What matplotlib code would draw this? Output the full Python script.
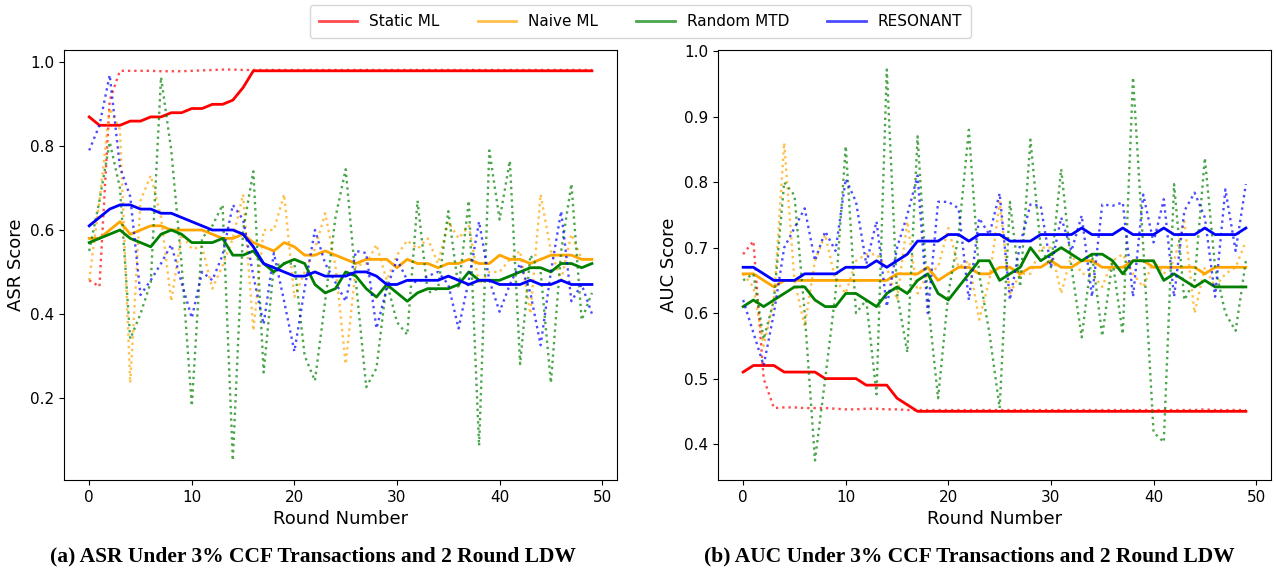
import matplotlib.pyplot as plt
from matplotlib.lines import Line2D

rounds = list(range(50))

# ASR panel: smoothed (solid) and raw (dotted) values per method
asr_static = [0.87, 0.85, 0.85, 0.85, 0.86, 0.86, 0.87, 0.87, 0.88, 0.88,
              0.89, 0.89, 0.90, 0.90, 0.91, 0.94, 0.98, 0.98, 0.98, 0.98,
              0.98, 0.98, 0.98, 0.98, 0.98, 0.98, 0.98, 0.98, 0.98, 0.98,
              0.98, 0.98, 0.98, 0.98, 0.98, 0.98, 0.98, 0.98, 0.98, 0.98,
              0.98, 0.98, 0.98, 0.98, 0.98, 0.98, 0.98, 0.98, 0.98, 0.98]
asr_static_raw = [0.48, 0.465, 0.91, 0.98, 0.98, 0.98, 0.98, 0.979, 0.979, 0.979,
                  0.98, 0.981, 0.982, 0.983, 0.983, 0.982, 0.982, 0.982, 0.982, 0.982,
                  0.982, 0.982, 0.982, 0.982, 0.982, 0.982, 0.982, 0.982, 0.982, 0.982,
                  0.982, 0.982, 0.982, 0.982, 0.982, 0.982, 0.982, 0.982, 0.982, 0.982,
                  0.982, 0.982, 0.982, 0.982, 0.982, 0.982, 0.982, 0.982, 0.982, 0.982]
asr_naive = [0.58, 0.58, 0.60, 0.62, 0.59, 0.60, 0.61, 0.61, 0.60, 0.60,
             0.60, 0.60, 0.59, 0.58, 0.58, 0.59, 0.57, 0.56, 0.55, 0.57,
             0.56, 0.54, 0.54, 0.55, 0.54, 0.53, 0.52, 0.53, 0.53, 0.53,
             0.51, 0.53, 0.52, 0.52, 0.51, 0.52, 0.52, 0.53, 0.52, 0.52,
             0.54, 0.53, 0.53, 0.52, 0.53, 0.54, 0.54, 0.54, 0.53, 0.53]
asr_naive_raw = [0.48, 0.67, 0.89, 0.84, 0.235, 0.67, 0.73, 0.63, 0.43, 0.59,
                 0.555, 0.56, 0.46, 0.515, 0.58, 0.685, 0.36, 0.60, 0.60, 0.685,
                 0.44, 0.50, 0.555, 0.64, 0.515, 0.28, 0.515, 0.52, 0.565, 0.48,
                 0.54, 0.575, 0.555, 0.58, 0.52, 0.62, 0.58, 0.61, 0.47, 0.50,
                 0.50, 0.53, 0.55, 0.40, 0.685, 0.55, 0.48, 0.59, 0.53, 0.53]
asr_random = [0.57, 0.58, 0.59, 0.60, 0.58, 0.57, 0.56, 0.59, 0.60, 0.59,
              0.57, 0.57, 0.57, 0.58, 0.54, 0.54, 0.55, 0.52, 0.50, 0.52,
              0.53, 0.52, 0.47, 0.45, 0.46, 0.50, 0.49, 0.46, 0.44, 0.47,
              0.45, 0.43, 0.45, 0.46, 0.46, 0.46, 0.47, 0.50, 0.48, 0.48,
              0.48, 0.49, 0.50, 0.51, 0.51, 0.50, 0.52, 0.52, 0.51, 0.52]
asr_random_raw = [0.55, 0.67, 0.81, 0.70, 0.34, 0.40, 0.475, 0.965, 0.79, 0.52,
                  0.18, 0.58, 0.61, 0.66, 0.05, 0.60, 0.74, 0.26, 0.515, 0.52,
                  0.52, 0.30, 0.24, 0.43, 0.63, 0.745, 0.475, 0.225, 0.27, 0.475,
                  0.38, 0.35, 0.67, 0.45, 0.46, 0.645, 0.46, 0.67, 0.085, 0.79,
                  0.625, 0.765, 0.28, 0.54, 0.50, 0.235, 0.55, 0.71, 0.385, 0.45]
asr_resonant = [0.61, 0.63, 0.65, 0.66, 0.66, 0.65, 0.65, 0.64, 0.64, 0.63,
                0.62, 0.61, 0.60, 0.60, 0.60, 0.59, 0.56, 0.52, 0.51, 0.50,
                0.49, 0.49, 0.50, 0.49, 0.49, 0.49, 0.50, 0.50, 0.49, 0.47,
                0.47, 0.48, 0.48, 0.48, 0.48, 0.49, 0.48, 0.47, 0.48, 0.48,
                0.47, 0.47, 0.47, 0.48, 0.47, 0.47, 0.48, 0.47, 0.47, 0.47]
asr_resonant_raw = [0.79, 0.85, 0.97, 0.75, 0.68, 0.445, 0.48, 0.52, 0.565, 0.475,
                    0.39, 0.50, 0.48, 0.54, 0.66, 0.625, 0.49, 0.375, 0.545, 0.43,
                    0.31, 0.46, 0.60, 0.52, 0.475, 0.43, 0.55, 0.545, 0.365, 0.46,
                    0.53, 0.48, 0.475, 0.49, 0.50, 0.47, 0.365, 0.48, 0.62, 0.48,
                    0.405, 0.47, 0.52, 0.45, 0.325, 0.50, 0.645, 0.43, 0.47, 0.40]

# AUC panel
auc_static = [0.51, 0.52, 0.52, 0.52, 0.51, 0.51, 0.51, 0.51, 0.50, 0.50,
              0.50, 0.50, 0.49, 0.49, 0.49, 0.47, 0.46, 0.45, 0.45, 0.45,
              0.45, 0.45, 0.45, 0.45, 0.45, 0.45, 0.45, 0.45, 0.45, 0.45,
              0.45, 0.45, 0.45, 0.45, 0.45, 0.45, 0.45, 0.45, 0.45, 0.45,
              0.45, 0.45, 0.45, 0.45, 0.45, 0.45, 0.45, 0.45, 0.45, 0.45]
auc_static_raw = [0.69, 0.71, 0.50, 0.455, 0.456, 0.456, 0.455, 0.455, 0.455, 0.454,
                  0.453, 0.453, 0.454, 0.454, 0.453, 0.453, 0.452, 0.452, 0.452, 0.452,
                  0.452, 0.452, 0.452, 0.452, 0.452, 0.452, 0.452, 0.452, 0.452, 0.452,
                  0.452, 0.452, 0.452, 0.452, 0.452, 0.452, 0.452, 0.452, 0.452, 0.452,
                  0.452, 0.452, 0.452, 0.452, 0.452, 0.453, 0.452, 0.452, 0.452, 0.452]
auc_naive = [0.66, 0.66, 0.65, 0.64, 0.65, 0.65, 0.65, 0.65, 0.65, 0.65,
             0.65, 0.65, 0.65, 0.65, 0.65, 0.66, 0.66, 0.66, 0.67, 0.65,
             0.66, 0.67, 0.67, 0.66, 0.66, 0.67, 0.67, 0.66, 0.67, 0.67,
             0.68, 0.67, 0.67, 0.68, 0.68, 0.67, 0.67, 0.67, 0.68, 0.68,
             0.67, 0.67, 0.67, 0.67, 0.67, 0.66, 0.67, 0.67, 0.67, 0.67]
auc_naive_raw = [0.66, 0.64, 0.55, 0.62, 0.86, 0.65, 0.58, 0.68, 0.72, 0.65,
                 0.63, 0.68, 0.69, 0.69, 0.67, 0.62, 0.74, 0.63, 0.66, 0.67,
                 0.73, 0.67, 0.68, 0.59, 0.65, 0.77, 0.63, 0.66, 0.66, 0.70,
                 0.70, 0.63, 0.69, 0.66, 0.66, 0.64, 0.68, 0.69, 0.66, 0.64,
                 0.68, 0.66, 0.68, 0.74, 0.60, 0.67, 0.64, 0.66, 0.67, 0.71]
auc_random = [0.61, 0.62, 0.61, 0.62, 0.63, 0.64, 0.64, 0.62, 0.61, 0.61,
              0.63, 0.63, 0.62, 0.61, 0.63, 0.64, 0.63, 0.65, 0.66, 0.63,
              0.62, 0.64, 0.66, 0.68, 0.68, 0.65, 0.66, 0.67, 0.70, 0.68,
              0.69, 0.70, 0.69, 0.68, 0.69, 0.69, 0.68, 0.66, 0.68, 0.68,
              0.68, 0.65, 0.66, 0.65, 0.64, 0.65, 0.64, 0.64, 0.64, 0.64]
auc_random_raw = [0.65, 0.66, 0.56, 0.62, 0.80, 0.78, 0.60, 0.375, 0.50, 0.63,
                  0.855, 0.60, 0.62, 0.476, 0.972, 0.63, 0.54, 0.87, 0.62, 0.47,
                  0.63, 0.72, 0.88, 0.66, 0.57, 0.455, 0.77, 0.64, 0.865, 0.70,
                  0.67, 0.82, 0.67, 0.563, 0.69, 0.565, 0.68, 0.568, 0.96, 0.70,
                  0.418, 0.403, 0.797, 0.62, 0.65, 0.837, 0.67, 0.60, 0.573, 0.68]
auc_resonant = [0.67, 0.67, 0.66, 0.65, 0.65, 0.65, 0.66, 0.66, 0.66, 0.66,
                0.67, 0.67, 0.67, 0.68, 0.67, 0.68, 0.69, 0.71, 0.71, 0.71,
                0.72, 0.72, 0.71, 0.72, 0.72, 0.72, 0.71, 0.71, 0.71, 0.72,
                0.72, 0.72, 0.72, 0.73, 0.72, 0.72, 0.72, 0.73, 0.72, 0.72,
                0.72, 0.73, 0.72, 0.72, 0.72, 0.73, 0.72, 0.72, 0.72, 0.73]
auc_resonant_raw = [0.62, 0.57, 0.52, 0.60, 0.70, 0.73, 0.76, 0.68, 0.725, 0.695,
                    0.805, 0.77, 0.675, 0.74, 0.61, 0.70, 0.75, 0.81, 0.60, 0.77,
                    0.77, 0.76, 0.62, 0.745, 0.72, 0.783, 0.62, 0.705, 0.766, 0.764,
                    0.67, 0.746, 0.695, 0.749, 0.625, 0.766, 0.764, 0.769, 0.625, 0.781,
                    0.708, 0.774, 0.625, 0.756, 0.784, 0.746, 0.625, 0.789, 0.695, 0.797]

labels = ['Static ML', 'Naive ML', 'Random MTD', 'RESONANT']
colors = ['red', 'orange', 'green', 'blue']

fig = plt.figure(figsize=(12.76, 5.71), dpi=100)
ax1 = fig.add_axes([0.0502, 0.1594, 0.4334, 0.753])
ax2 = fig.add_axes([0.5627, 0.1594, 0.4334, 0.753])

panels = [
    (ax1, [asr_static, asr_naive, asr_random, asr_resonant],
     [asr_static_raw, asr_naive_raw, asr_random_raw, asr_resonant_raw], 'ASR Score'),
    (ax2, [auc_static, auc_naive, auc_random, auc_resonant],
     [auc_static_raw, auc_naive_raw, auc_random_raw, auc_resonant_raw], 'AUC Score'),
]

for ax, smooth, raw, ylab in panels:
    for s, r, c in zip(smooth, raw, colors):
        ax.plot(rounds, s, color=c, linewidth=2)
        ax.plot(rounds, r, color=c, linestyle=':', linewidth=1.7, alpha=0.7)
    ax.set_xlabel('Round Number', fontsize=13)
    ax.set_ylabel(ylab, fontsize=13)
    ax.tick_params(labelsize=11)
    ax.set_xticks([0, 10, 20, 30, 40, 50])

handles = [Line2D([0], [0], color=c, linewidth=2, alpha=0.7) for c in colors]
fig.legend(handles, labels, loc='upper center', ncol=4, fontsize=11,
           bbox_to_anchor=(0.502, 1.005), handlelength=2.5, columnspacing=2.5,
           fancybox=True, borderpad=0.6)

cap_font = dict(family='Liberation Serif', fontweight='bold', fontsize=15.5)
fig.text(0.245, 0.025, '(a) ASR Under 3% CCF Transactions and 2 Round LDW',
         ha='center', va='center', **cap_font)
fig.text(0.7595, 0.025, '(b) AUC Under 3% CCF Transactions and 2 Round LDW',
         ha='center', va='center', **cap_font)

fig.savefig('out.png', dpi=100)
